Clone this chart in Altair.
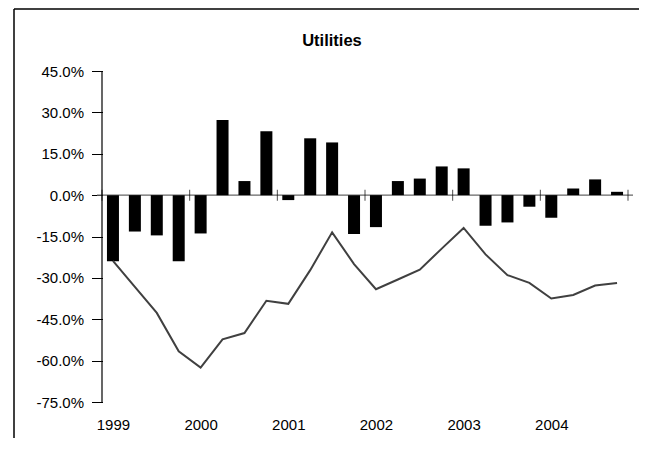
import altair as alt
import pandas as pd

# Quarterly data, 1999 Q1 .. 2004 Q4
years = [1999, 2000, 2001, 2002, 2003, 2004]
quarterly_return = [-24.0, -13.2, -14.6, -24.0, -13.9, 27.2, 5.1, 23.2, -1.8, 20.6, 19.1, -14.1,
                    -11.6, 5.1, 6.0, 10.4, 9.7, -11.1, -9.9, -4.2, -8.2, 2.4, 5.7, 1.2]
cumulative = [-23.8, -33.3, -42.7, -56.6, -62.5, -52.3, -50.0, -38.3, -39.4, -27.2, -13.5, -25.0,
              -34.1, -30.6, -27.0, -19.4, -11.9, -21.5, -29.0, -31.8, -37.5, -36.2, -32.8, -31.9]
y_ticks = [-75, -60, -45, -30, -15, 0, 15, 30, 45]

n = len(quarterly_return)
df = pd.DataFrame({
    "x": [i + 0.5 for i in range(n)],
    "v": quarterly_return,
    "c": cumulative,
})
ticks_df = pd.DataFrame({"x": list(range(0, n + 1, 4))})
one = pd.DataFrame({"a": [0]})

W, H = 536, 331
PAD_L, PAD_T, PAD_R, PAD_B = 89, 63, 6, 36
FONT = "Liberation Sans"

xscale = alt.Scale(domain=[0, n], nice=False, zero=False)
yscale = alt.Scale(domain=[-75, 45], nice=False, zero=False)

year_expr = "toString(%d + floor(datum.value / 4))" % years[0]
xaxis = alt.Axis(values=[i * 4 + 0.5 for i in range(len(years))], labelExpr=year_expr,
                 ticks=False, tickSize=0, domain=False, grid=False, title=None,
                 labelPadding=15, labelFont=FONT, labelFontSize=15, labelColor="black",
                 labelAngle=0)
yaxis = alt.Axis(values=y_ticks, labelExpr="(datum.value < 0 ? '-' : '') + format(abs(datum.value), '.1f') + '%'",
                 domain=False, grid=False, title=None, tickSize=11, offset=-5.5,
                 tickColor="black", tickWidth=1, labelPadding=8,
                 labelFont=FONT, labelFontSize=15, labelColor="black")

base = alt.Chart(df)

frame_top = alt.Chart(one).mark_rule(color="black", strokeWidth=1.5).encode(
    x=alt.value(-83), x2=alt.value(W + PAD_R), y=alt.value(-62)
)
frame_left = alt.Chart(one).mark_rule(color="black", strokeWidth=1.5).encode(
    x=alt.value(-83), y=alt.value(-62), y2=alt.value(H + PAD_B)
)

zero_line = alt.Chart(one).mark_rule(color="#666666", strokeWidth=1.2).encode(
    y=alt.datum(0, scale=yscale)
)

bars = base.mark_bar(color="black", size=12).encode(
    x=alt.X("x:Q", scale=xscale, axis=xaxis),
    y=alt.Y("v:Q", scale=yscale, axis=yaxis),
)

boundary_ticks = alt.Chart(ticks_df).mark_tick(orient="vertical", size=11, thickness=1, color="black").encode(
    x=alt.X("x:Q", scale=xscale, axis=xaxis),
    y=alt.datum(0),
)

y_line = alt.Chart(one).mark_rule(color="black", strokeWidth=1.2).encode(
    x=alt.datum(0)
)

line = base.mark_line(color="#404040", strokeWidth=2).encode(
    x=alt.X("x:Q", scale=xscale, axis=xaxis),
    y=alt.Y("c:Q", scale=yscale, axis=yaxis),
)

title = alt.Chart(one).mark_text(text="Utilities", font=FONT, fontWeight="bold",
                                 fontSize=16.5, align="center", baseline="alphabetic", color="black").encode(
    x=alt.value(235), y=alt.value(-25)
)

chart = alt.layer(frame_top, frame_left, zero_line, bars, boundary_ticks, y_line, line, title).properties(
    width=W, height=H,
    autosize=alt.AutoSizeParams(type="none"),
    padding={"left": PAD_L, "top": PAD_T, "right": PAD_R, "bottom": PAD_B},
).configure_view(stroke=None)

chart.save("out.html", embed_options={"renderer": "svg", "actions": False})
